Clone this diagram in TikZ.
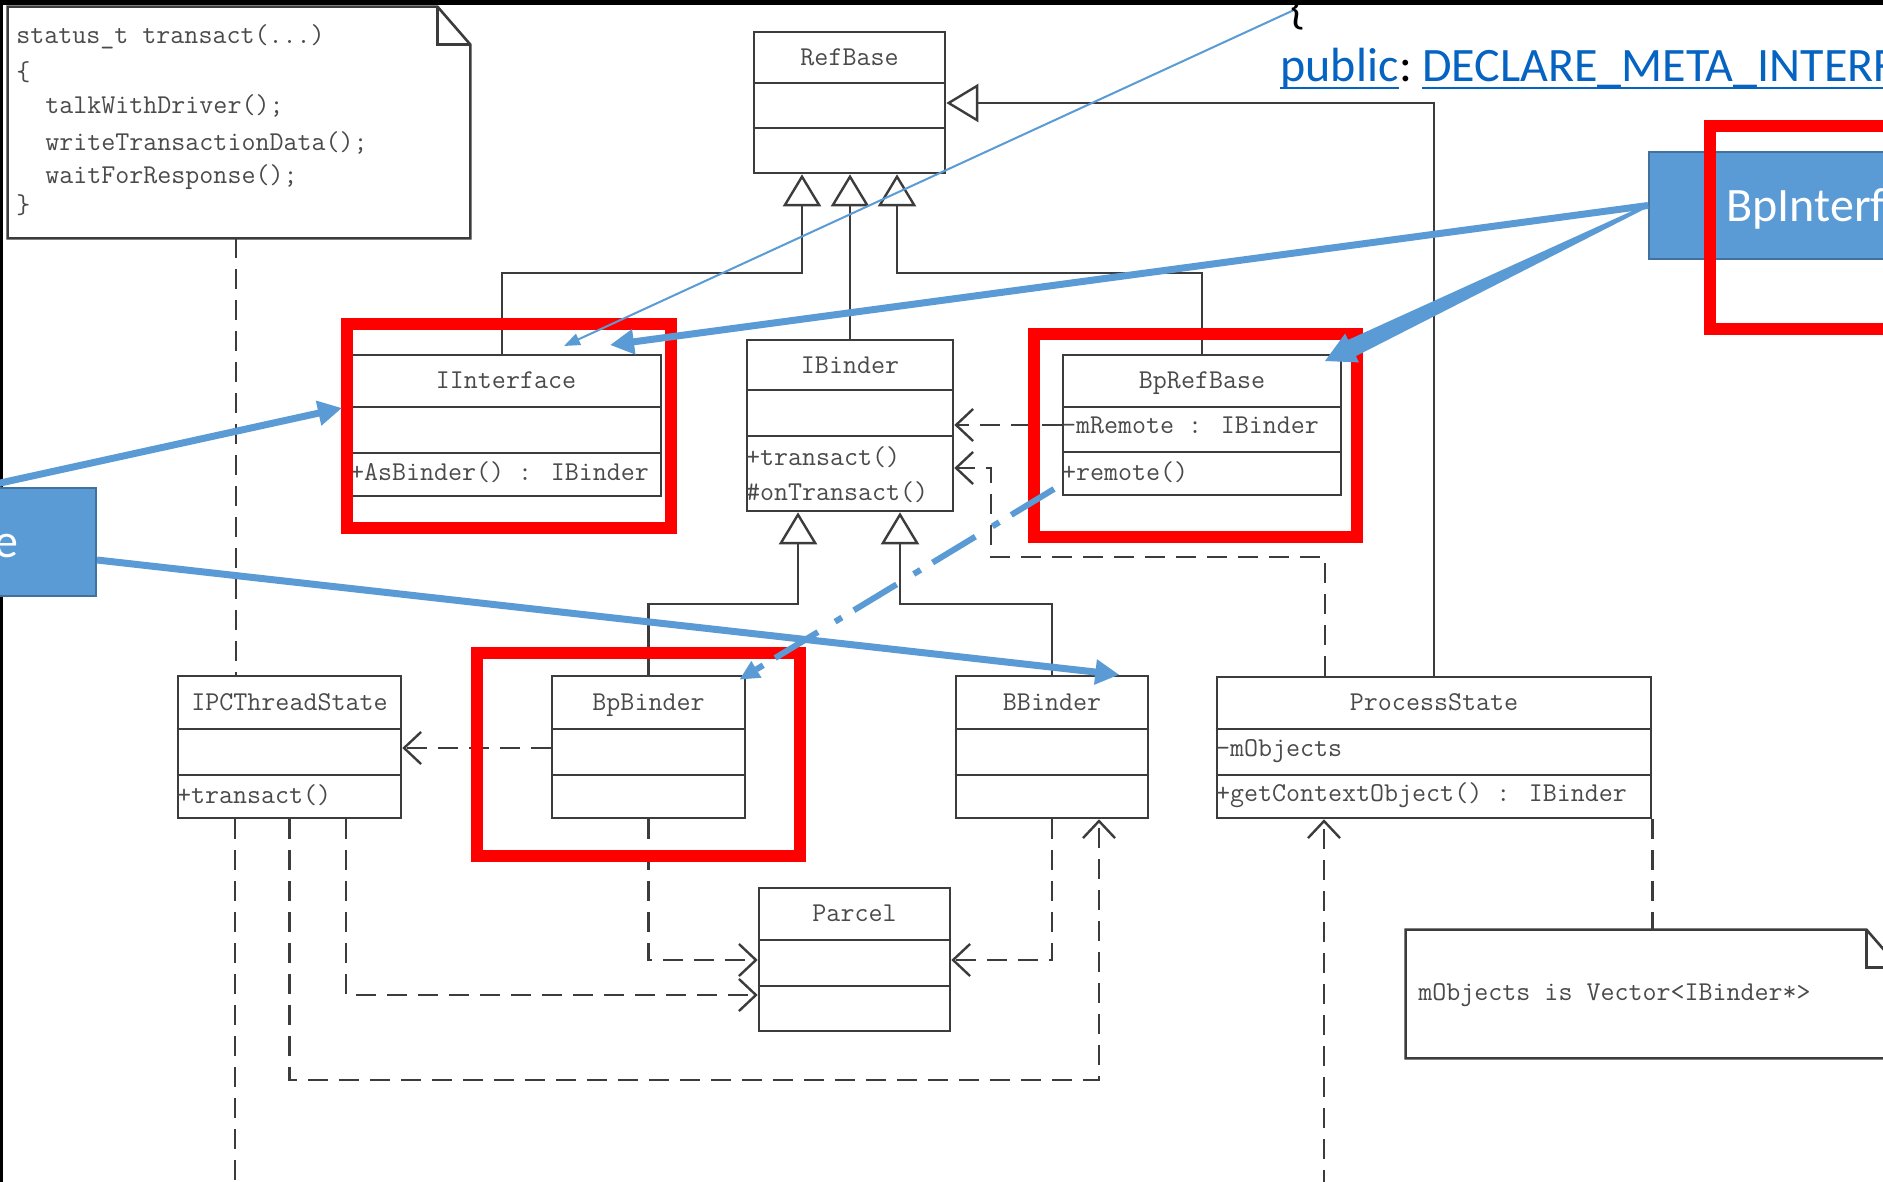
\documentclass[tikz,border=0pt]{standalone}
\usepackage{fontspec}
\newfontfamily\slidefont{Carlito}
\usetikzlibrary{arrows.meta,fit,calc}
\definecolor{umlgray}{HTML}{3C3C3C}
\definecolor{umltextgray}{HTML}{4A4A4A}
\definecolor{slideblue}{HTML}{5B9BD5}
\definecolor{slideborder}{HTML}{41719C}
\definecolor{linkblue}{HTML}{0563C1}
\tikzset{
  umlbox/.style={draw=umlgray, line width=1.3pt, inner sep=0pt},
  umlrule/.style={draw=umlgray, line width=1.3pt},
  umltext/.style={text=umltextgray, font=\fontsize{13.6}{16}\selectfont\ttfamily, inner sep=0pt, text height=8.4pt, text depth=0pt},
  generalize/.style={draw=umlgray, line width=1.2pt, -{Triangle[open, length=16pt, width=19pt, line width=1.2pt]}},
  depends/.style={draw=umlgray, line width=1.2pt, dash pattern=on 10pt off 5.5pt, -{Straight Barb[length=8.5pt, width=16pt, line width=1.2pt]}},
  lifeline/.style={draw=umlgray, line width=1.2pt, dash pattern=on 10pt off 5.5pt},
  hlbox/.style={draw=red, line width=6pt},
  calloutbox/.style={fill=slideblue, draw=slideborder, line width=1pt, inner sep=0pt},
  callout/.style={draw=slideblue, line width=3.5pt, -{Triangle[length=12pt, width=12pt]}},
  slidetext/.style={font=\fontsize{24}{28}\selectfont\slidefont, inner sep=0pt},
}
\begin{document}
\begin{tikzpicture}[x=0.5pt, y=-0.5pt]
\useasboundingbox (0,0) rectangle (1883,1182);
\clip (0,0) rectangle (1883,1182);
\fill[white] (0,0) rectangle (1883,1182);
\fill[black] (0,0) rectangle (3,1182);
% code note
\node[inner sep=0pt, fit={(8,7) (470,238)}] (codenote) {};
\draw[umlrule] (codenote.north west) -- ([xshift=-16.5pt]codenote.north east) -- ([yshift=-19pt]codenote.north east) -- (codenote.south east) -- (codenote.south west) -- cycle;
\draw[umlrule] ([xshift=-16.5pt]codenote.north east) |- ([yshift=-19pt]codenote.north east);
\node[umltext, anchor=west] (code1) at (16,35) {status\_t transact(...)};
\node[umltext, anchor=west] (code2) at (16,72) {\{};
\node[umltext, anchor=west] (code3) at (45,105) {talkWithDriver();};
\node[umltext, anchor=west] (code4) at (45,142) {writeTransactionData();};
\node[umltext, anchor=west] (code5) at (45,175) {waitForResponse();};
\node[umltext, anchor=west] (code6) at (16,205) {\}};
% classes
\node[umlbox, fit={(754,32) (945,173)}] (refbase) {};
\draw[umlrule] (refbase.west |- 0,83) -- (refbase.east |- 0,83) (refbase.west |- 0,128) -- (refbase.east |- 0,128);
\node[umltext] (refbase-name) at (refbase.north |- 0,57) {RefBase};
\node[umlbox, fit={(351,355) (661,496)}] (iinterface) {};
\draw[umlrule] (iinterface.west |- 0,407) -- (iinterface.east |- 0,407) (iinterface.west |- 0,453) -- (iinterface.east |- 0,453);
\node[umltext] (iinterface-name) at (iinterface.north |- 0,380) {IInterface};
\node[umltext, anchor=west] (iinterface-op) at (iinterface.west |- 0,472) {+AsBinder() : IBinder};
\node[umlbox, fit={(747,340) (953,511)}] (ibinder) {};
\draw[umlrule] (ibinder.west |- 0,390) -- (ibinder.east |- 0,390) (ibinder.west |- 0,436) -- (ibinder.east |- 0,436);
\node[umltext] (ibinder-name) at (ibinder.north |- 0,365) {IBinder};
\node[umltext, anchor=west] (ibinder-op1) at (ibinder.west |- 0,457) {+transact()};
\node[umltext, anchor=west] (ibinder-op2) at (ibinder.west |- 0,492) {\#onTransact()};
\node[umlbox, fit={(1063,355) (1341,495)}] (bprefbase) {};
\draw[umlrule] (bprefbase.west |- 0,407) -- (bprefbase.east |- 0,407) (bprefbase.west |- 0,452) -- (bprefbase.east |- 0,452);
\node[umltext] (bprefbase-name) at (bprefbase.north |- 0,380) {BpRefBase};
\node[umltext, anchor=west] (bprefbase-attr) at (bprefbase.west |- 0,425) {-mRemote : IBinder};
\node[umltext, anchor=west] (bprefbase-op) at (bprefbase.west |- 0,472) {+remote()};
\node[umlbox, fit={(178,676) (401,818)}] (ipcthreadstate) {};
\draw[umlrule] (ipcthreadstate.west |- 0,729) -- (ipcthreadstate.east |- 0,729) (ipcthreadstate.west |- 0,775) -- (ipcthreadstate.east |- 0,775);
\node[umltext] (ipcthreadstate-name) at (ipcthreadstate.north |- 0,702) {IPCThreadState};
\node[umltext, anchor=west] (ipcthreadstate-op) at (ipcthreadstate.west |- 0,795) {+transact()};
\node[umlbox, fit={(552,676) (745,818)}] (bpbinder) {};
\draw[umlrule] (bpbinder.west |- 0,729) -- (bpbinder.east |- 0,729) (bpbinder.west |- 0,775) -- (bpbinder.east |- 0,775);
\node[umltext] (bpbinder-name) at (bpbinder.north |- 0,702) {BpBinder};
\node[umlbox, fit={(956,676) (1148,818)}] (bbinder) {};
\draw[umlrule] (bbinder.west |- 0,729) -- (bbinder.east |- 0,729) (bbinder.west |- 0,775) -- (bbinder.east |- 0,775);
\node[umltext] (bbinder-name) at (bbinder.north |- 0,702) {BBinder};
\node[umlbox, fit={(1217,677) (1651,818)}] (processstate) {};
\draw[umlrule] (processstate.west |- 0,729) -- (processstate.east |- 0,729) (processstate.west |- 0,775) -- (processstate.east |- 0,775);
\node[umltext] (processstate-name) at (processstate.north |- 0,702) {ProcessState};
\node[umltext, anchor=west] (processstate-attr) at (processstate.west |- 0,748) {-mObjects};
\node[umltext, anchor=west] (processstate-op) at (processstate.west |- 0,793) {+getContextObject() : IBinder};
\node[umlbox, fit={(759,888) (950,1031)}] (parcel) {};
\draw[umlrule] (parcel.west |- 0,940) -- (parcel.east |- 0,940) (parcel.west |- 0,986) -- (parcel.east |- 0,986);
\node[umltext] (parcel-name) at (parcel.north |- 0,913) {Parcel};
% process note
\node[inner sep=0pt, fit={(1406,930) (1899,1058)}] (processnote) {};
\draw[umlrule] (processnote.north west) -- ([xshift=-16.5pt]processnote.north east) -- ([yshift=-19pt]processnote.north east) -- (processnote.south east) -- (processnote.south west) -- cycle;
\draw[umlrule] ([xshift=-16.5pt]processnote.north east) |- ([yshift=-19pt]processnote.north east);
\node[umltext, anchor=west] (processnote-text) at (1418,992) {mObjects is Vector<IBinder*>};
% generalizations
\draw[generalize] ([xshift=-2pt]iinterface.north) |- (802,273) -- (refbase.south -| 802,0);
\draw[generalize] (ibinder.north) -- (refbase.south -| ibinder.north);
\draw[generalize] (bprefbase.north) |- (897,273) -- (refbase.south -| 897,0);
\draw[generalize] (processstate.north) |- (refbase.east |- 0,103);
\draw[generalize] (bpbinder.north) |- (798,604) -- (ibinder.south -| 798,0);
\draw[generalize] (bbinder.north) |- (900,604) -- (ibinder.south -| 900,0);
% dependencies
\draw[depends] (bprefbase.west |- 0,425) -- (ibinder.east |- 0,425);
\draw[depends] (processstate.north -| 1325,0) |- (991,557) |- (ibinder.east |- 0,468);
\draw[depends] (bpbinder.west |- 0,748) -- (ipcthreadstate.east |- 0,748);
\draw[depends] (bpbinder.south) |- (parcel.west |- 0,960);
\draw[depends] (bbinder.south) |- (parcel.east |- 0,960);
\draw[depends] (ipcthreadstate.south -| 346,0) |- (parcel.west |- 0,995);
\draw[depends] (ipcthreadstate.south) |- (1099,1080) -- (bbinder.south -| 1099,0);
\draw[depends] (1324,1190) -- (processstate.south -| 1324,0);
\draw[lifeline] (codenote.south -| 236,0) -- (ipcthreadstate.north -| 236,0);
\draw[lifeline] (ipcthreadstate.south -| 235,0) -- (235,1190);
\draw[lifeline] (processstate.south east) -- (processnote.north -| processstate.south east);
% slide overlay
\node[calloutbox, fit={(1649,152) (1950,259)}] (bpinterf) {};
\node[slidetext, text=white, anchor=base west] (bpinterf-name) at (1726,222) {BpInterf};
\node[calloutbox, fit={(-150,488) (96,596)}] (bninterf) {};
\node[slidetext, text=white, anchor=base east] (bninterf-name) at (19,557) {e};
\draw[hlbox] (347,324) rectangle (671,528);
\draw[hlbox] (1034,334) rectangle (1357,537);
\draw[hlbox] (477,653) rectangle (800,856);
\draw[hlbox] (1710,126) rectangle (1900,329);
\coordinate (iinterface-in) at (610,345);
\coordinate (iinterface-left) at (342,408);
\coordinate (iinterface-top) at (564,346);
\coordinate (bprefbase-in) at (1325,361);
\coordinate (bprefbase-out) at (1054,489);
\coordinate (brace-tip) at (1294,10);
\draw[callout] (bpinterf.west) -- (iinterface-in);
\coordinate (wedge-base) at ($(bprefbase-in)!15pt!(bpinterf.west)$);
\fill[slideblue] ($(bpinterf.west)!0.8pt!90:(bprefbase-in)$) -- ($(wedge-base)!4.5pt!-90:(bpinterf.west)$) -- ($(wedge-base)!8pt!-90:(bpinterf.west)$) -- (bprefbase-in) -- ($(wedge-base)!8pt!90:(bpinterf.west)$) -- ($(wedge-base)!4.5pt!90:(bpinterf.west)$) -- ($(bpinterf.west)!0.8pt!-90:(bprefbase-in)$) -- cycle;
\draw[callout] (bninterf.north -| -18,0) -- (iinterface-left);
\draw[callout] (bninterf.east |- 0,560) -- ([xshift=-15pt]bbinder.north east);
\draw[slideblue, line width=1pt, -{Triangle[length=8pt, width=6pt]}] (brace-tip) -- (iinterface-top);
\draw[slideblue, line width=3pt, dash pattern=on 25pt off 7pt on 4pt off 10pt, -{Triangle[length=10pt, width=9pt]}] (bprefbase-out) -- ([xshift=-3.5pt, yshift=-2.5pt]bpbinder.north east);
% slide text
\node[slidetext, anchor=base west] (brace) at (1290,24) {\{};
\node[slidetext, text=linkblue, anchor=base west] (kw-public) at (1280,82) {public};
\node[slidetext, anchor=base west] (kw-colon) at (kw-public.base east) {:};
\node[slidetext, text=linkblue, anchor=base west] (kw-macro) at (1422,82) {DECLARE\_META\_INTERF};
\draw[linkblue, line width=1.2pt] ([yshift=-3pt]kw-public.base west) -- ([yshift=-3pt]kw-public.base east);
\draw[linkblue, line width=1.2pt] ([yshift=-3pt]kw-macro.base west) -- ([yshift=-3pt]kw-macro.base east);
\fill[black] (0,0) rectangle (1883,5);
\end{tikzpicture}
\end{document}
